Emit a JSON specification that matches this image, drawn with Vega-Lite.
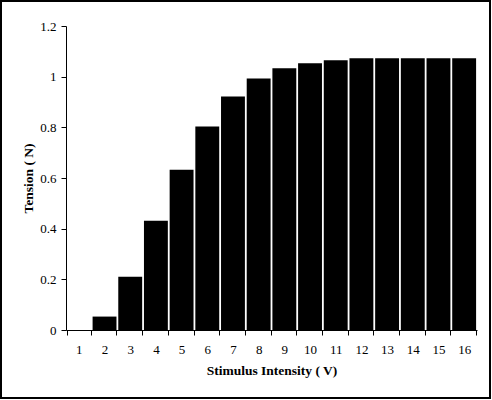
{
  "$schema": "https://vega.github.io/schema/vega-lite/v6.json",
  "autosize": "none",
  "padding": {"left": 1, "top": 1, "right": 1, "bottom": 1},
  "width": 489,
  "height": 397,
  "data": {
    "values": [
      {"intensity": "1", "tension": 0},
      {"intensity": "2", "tension": 0.053},
      {"intensity": "3", "tension": 0.21},
      {"intensity": "4", "tension": 0.431},
      {"intensity": "5", "tension": 0.633},
      {"intensity": "6", "tension": 0.803},
      {"intensity": "7", "tension": 0.922},
      {"intensity": "8", "tension": 0.993},
      {"intensity": "9", "tension": 1.033},
      {"intensity": "10", "tension": 1.053},
      {"intensity": "11", "tension": 1.065},
      {"intensity": "12", "tension": 1.073},
      {"intensity": "13", "tension": 1.073},
      {"intensity": "14", "tension": 1.073},
      {"intensity": "15", "tension": 1.073},
      {"intensity": "16", "tension": 1.073}
    ]
  },
  "mark": {"type": "bar", "color": "black"},
  "encoding": {
    "x": {
      "field": "intensity",
      "type": "ordinal",
      "sort": null,
      "scale": {"range": [65, 476], "paddingInner": 0.07, "paddingOuter": 0.035},
      "axis": {
        "title": "Stimulus Intensity ( V)",
        "orient": "bottom",
        "offset": -68,
        "labelAngle": 0,
        "tickBand": "extent",
        "labelPadding": 8,
        "titlePadding": 7
      }
    },
    "y": {
      "field": "tension",
      "type": "quantitative",
      "scale": {"domain": [0, 1.2], "range": [329, 25], "nice": false, "zero": true},
      "axis": {
        "title": "Tension ( N)",
        "offset": -65,
        "values": [0, 0.2, 0.4, 0.6, 0.8, 1, 1.2],
        "format": "~g",
        "labelPadding": 5,
        "titlePadding": 4
      }
    }
  },
  "config": {
    "view": {"stroke": "black", "strokeWidth": 2},
    "font": "Liberation Serif",
    "axis": {
      "domainColor": "black",
      "domainWidth": 1,
      "tickColor": "black",
      "tickWidth": 1,
      "tickSize": 5,
      "grid": false,
      "labelFont": "Liberation Serif",
      "labelFontSize": 13,
      "labelColor": "black",
      "titleFont": "Liberation Serif",
      "titleFontSize": 13.5,
      "titleFontWeight": "bold",
      "titleColor": "black"
    }
  }
}
